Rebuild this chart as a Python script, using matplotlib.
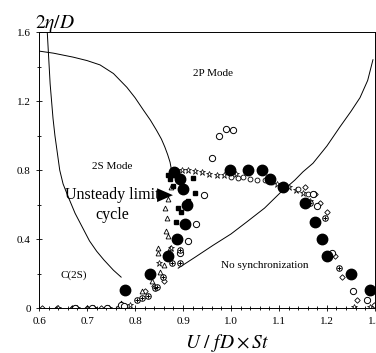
import matplotlib
matplotlib.use("Agg")
import matplotlib.pyplot as plt
from matplotlib.ticker import MultipleLocator, FuncFormatter

plt.rcParams['font.family'] = ['Liberation Serif', 'DejaVu Serif']
plt.rcParams['mathtext.fontset'] = 'stix'

# boundary curves
c2s_x = [0.617, 0.619, 0.621, 0.623, 0.626, 0.629, 0.633, 0.638, 0.643, 0.650, 0.660,
         0.675, 0.690, 0.705, 0.720, 0.735, 0.755, 0.771]
c2s_y = [1.60, 1.50, 1.40, 1.30, 1.20, 1.10, 1.00, 0.90, 0.80, 0.72, 0.65,
         0.55, 0.47, 0.39, 0.33, 0.28, 0.22, 0.18]

b2p_x = [0.600, 0.630, 0.671, 0.700, 0.727, 0.755, 0.783, 0.800, 0.817, 0.832, 0.845,
         0.855, 0.862, 0.868, 0.873, 0.876]
b2p_y = [1.49, 1.478, 1.455, 1.435, 1.41, 1.36, 1.28, 1.22, 1.15, 1.09, 1.03,
         0.98, 0.935, 0.89, 0.846, 0.80]

nos_x = [0.890, 0.925, 0.963, 1.000, 1.033, 1.070, 1.102, 1.133, 1.150, 1.171, 1.200,
         1.227, 1.250, 1.269, 1.285, 1.296]
nos_y = [0.232, 0.295, 0.365, 0.43, 0.50, 0.58, 0.667, 0.742, 0.79, 0.84, 0.94,
         1.05, 1.14, 1.22, 1.32, 1.44]

# data series
big_x = [0.779, 0.832, 0.869, 0.887, 0.905, 0.909, 0.900, 0.882, 0.893, 0.998, 1.035,
         1.065, 1.082, 1.108, 1.154, 1.175, 1.190, 1.200, 1.250, 1.290]
big_y = [0.105, 0.20, 0.30, 0.40, 0.49, 0.60, 0.69, 0.79, 0.75, 0.80, 0.80,
         0.80, 0.75, 0.70, 0.61, 0.50, 0.40, 0.30, 0.20, 0.105]

oc_x = [0.975, 0.990, 1.004, 0.960, 0.944, 0.927, 0.910, 0.893, 1.179, 1.210, 1.254,
        1.283, 0.770, 0.778, 0.675, 0.710, 0.742, 1.171]
oc_y = [1.00, 1.04, 1.03, 0.87, 0.655, 0.49, 0.39, 0.32, 0.59, 0.32, 0.10,
        0.045, 0.02, 0.01, 0.0, 0.0, 0.0, 0.66]

soc_x = [1.000, 1.015, 1.025, 1.040, 1.055, 1.070, 1.085, 1.140, 1.160]
soc_y = [0.76, 0.755, 0.76, 0.75, 0.745, 0.74, 0.73, 0.69, 0.66]

st_x = [0.885, 0.898, 0.910, 0.925, 0.940, 0.955, 0.970, 0.985, 1.010, 1.095, 1.120,
        1.135, 1.150, 1.165, 1.256, 1.290, 0.640, 0.680, 0.715, 0.745, 0.790, 0.850, 0.875]
st_y = [0.80, 0.80, 0.80, 0.795, 0.79, 0.775, 0.77, 0.77, 0.78, 0.72, 0.70,
        0.685, 0.67, 0.62, 0.005, 0.005, 0.0, 0.0, 0.0, 0.0, 0.02, 0.26, 0.35]

tri_x = [0.668, 0.700, 0.740, 0.770, 0.815, 0.835, 0.848, 0.848, 0.852, 0.860, 0.863,
         0.866, 0.869, 0.869, 0.873, 0.876, 0.865]
tri_y = [0.0, 0.0, 0.0, 0.03, 0.10, 0.16, 0.32, 0.35, 0.21, 0.25, 0.58,
         0.52, 0.63, 0.42, 0.35, 0.70, 0.45]

dia_x = [0.607, 0.637, 0.668, 0.700, 0.730, 0.765, 0.820, 0.840, 0.860, 1.155, 1.175,
         1.185, 1.200, 1.217, 1.231, 1.262, 1.298]
dia_y = [0.0, 0.0, 0.0, 0.0, 0.0, 0.0, 0.10, 0.13, 0.16, 0.70, 0.66,
         0.61, 0.56, 0.30, 0.18, 0.045, 0.02]

sq_x = [0.920, 0.925, 0.910, 0.890, 0.895, 0.885, 0.872, 0.868, 0.880]
sq_y = [0.755, 0.67, 0.62, 0.58, 0.555, 0.50, 0.75, 0.77, 0.71]

cc_x = [0.804, 0.815, 0.827, 0.842, 0.846, 0.859, 0.877, 0.894, 0.894, 1.196, 1.225, 1.165]
cc_y = [0.045, 0.06, 0.07, 0.115, 0.12, 0.18, 0.26, 0.26, 0.34, 0.52, 0.23, 0.61]

fig = plt.figure(figsize=(3.76, 3.53), dpi=100)
ax = fig.add_axes([0.104, 0.127, 0.893, 0.782])

ax.plot(c2s_x, c2s_y, color='black', lw=0.7)
ax.plot(b2p_x, b2p_y, color='black', lw=0.7)
ax.plot(nos_x, nos_y, color='black', lw=0.7)

ax.plot(dia_x, dia_y, 'D', mfc='white', mec='black', ms=2.8, mew=0.6, ls='none')
ax.plot(tri_x, tri_y, '^', mfc='white', mec='black', ms=3.5, mew=0.6, ls='none')
ax.plot(st_x, st_y, '*', mfc='white', mec='black', ms=4.5, mew=0.5, ls='none')
ax.plot(soc_x, soc_y, 'o', mfc='white', mec='black', ms=3.5, mew=0.6, ls='none')
ax.plot(oc_x, oc_y, 'o', mfc='white', mec='black', ms=4.5, mew=0.7, ls='none')
ax.plot(cc_x, cc_y, 'o', mfc='white', mec='black', ms=4, mew=0.7, ls='none')
ax.plot(cc_x, cc_y, '+', color='black', ms=3.5, mew=0.7, ls='none')
ax.plot(sq_x, sq_y, 's', color='black', ms=3, ls='none')
ax.plot(big_x, big_y, 'o', color='black', ms=7.5, ls='none')

# arrow head pointing at the limit-cycle branch
ax.fill([0.846, 0.879, 0.846], [0.695, 0.655, 0.615], color='black', lw=0)

ax.text(0.752, 0.655, 'Unsteady limit', fontsize=11.5, ha='center', va='center')
ax.text(0.752, 0.54, 'cycle', fontsize=11.5, ha='center', va='center')
ax.text(0.752, 0.82, '2S Mode', fontsize=8, ha='center', va='center')
ax.text(0.963, 1.36, '2P Mode', fontsize=8, ha='center', va='center')
ax.text(0.672, 0.19, 'C(2S)', fontsize=8, ha='center', va='center')
ax.text(1.07, 0.245, 'No synchronization', fontsize=8, ha='center', va='center')

ax.set_xlim(0.6, 1.3)
ax.set_ylim(0, 1.6)
ax.xaxis.set_major_locator(MultipleLocator(0.1))
ax.xaxis.set_minor_locator(MultipleLocator(0.02))
ax.yaxis.set_major_locator(MultipleLocator(0.4))
ax.yaxis.set_minor_locator(MultipleLocator(0.2))
ax.xaxis.set_major_formatter(FuncFormatter(lambda v, p: f'{v:.1f}'))
ax.yaxis.set_major_formatter(FuncFormatter(lambda v, p: '0' if v == 0 else f'{v:.1f}'))
ax.tick_params(which='both', direction='inout', labelsize=8, width=0.6)
ax.tick_params(which='major', length=5)
ax.tick_params(which='minor', length=3)
for s in ax.spines.values():
    s.set_linewidth(0.7)

fig.text(0.093, 0.905, r'$2\eta/D$', fontsize=14, ha='left', va='bottom')
fig.text(0.604, 0.028, r'$U\ /\ fD\times St$', fontsize=14, ha='center', va='center')

fig.savefig('out.png', dpi=100)
